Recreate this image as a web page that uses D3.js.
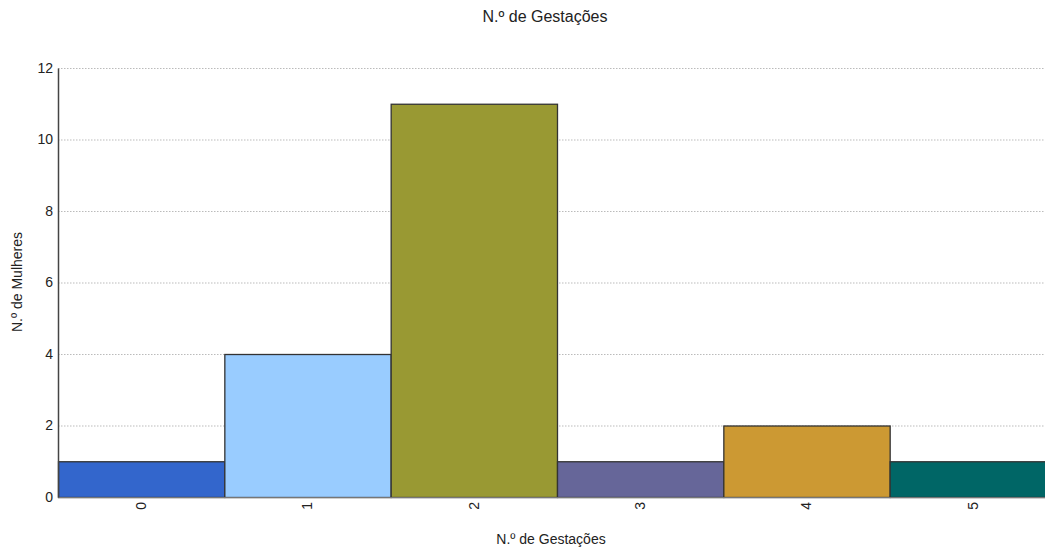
<!DOCTYPE html>
<html><head><meta charset="utf-8">
<script src="https://cdn.jsdelivr.net/npm/d3@7"></script>
<style>body{margin:0;background:#fff;} svg{display:block;} text{font-family:"Liberation Sans",Arial,sans-serif;fill:#222;}</style>
</head><body>
<script>
const categories = ["0","1","2","3","4","5"];
const values = [1,4,11,1,2,1];
const colors = ["#3366cc","#99ccff","#999933","#666699","#cc9933","#006666"];
const yTicks = [0,2,4,6,8,10,12];
const title = "N.º de Gestações";
const xTitle = "N.º de Gestações";
const yTitle = "N.º de Mulheres";

const W = 1045, H = 549;
const m = {left:58, right:-11, top:68, bottom:52};
const svg = d3.select("body").append("svg").attr("width",W).attr("height",H);
const x = d3.scaleBand().domain(categories).range([m.left, W - m.right]).padding(0);
const y = d3.scaleLinear().domain([0,12]).range([H - m.bottom, m.top]);

svg.append("text").attr("x",545).attr("y",22).attr("text-anchor","middle").attr("font-size",16).text(title);

const grid = svg.append("g");
grid.selectAll("line").data(yTicks.filter(d=>d>0)).join("line")
  .attr("x1",m.left).attr("x2",W).attr("y1",d=>y(d)+0.5).attr("y2",d=>y(d)+0.5)
  .attr("stroke","#bbb").attr("stroke-dasharray","1.5,1.5");

svg.append("g").selectAll("rect").data(values).join("rect")
  .attr("x",(d,i)=>x(categories[i])+0.5).attr("width",x.bandwidth())
  .attr("y",d=>y(d)+0.5).attr("height",d=>y(0)-y(d))
  .attr("fill",(d,i)=>colors[i]).attr("stroke","#333").attr("stroke-width",1.3);

// x baseline
svg.append("line").attr("x1",m.left).attr("x2",W).attr("y1",y(0)+1).attr("y2",y(0)+1).attr("stroke","#bbb");

// y axis
const ya = d3.axisLeft(y).tickValues(yTicks).tickSize(0).tickPadding(5);
const yg = svg.append("g").attr("transform",`translate(${m.left},0)`).call(ya);
yg.select(".domain").attr("stroke","#444").attr("stroke-width",1.5);
yg.selectAll("text").attr("font-size",14).style("font-family","Liberation Sans, Arial, sans-serif").attr("fill","#222");

// x axis
const xa = d3.axisBottom(x).tickSize(0).tickPadding(0);
const xg = svg.append("g").attr("transform",`translate(0,${y(0)})`).call(xa);
xg.select(".domain").remove();
xg.selectAll("text").attr("font-size",14).style("font-family","Liberation Sans, Arial, sans-serif").attr("fill","#222")
  .attr("transform","rotate(-90)").attr("text-anchor","end").attr("dy","0.35em").attr("x",-5).attr("y",0);

svg.append("text").attr("x",551).attr("y",544).attr("text-anchor","middle").attr("font-size",14).text(xTitle);
svg.append("text").attr("transform","translate(22,282) rotate(-90)").attr("text-anchor","middle").attr("font-size",14).text(yTitle);
</script>
</body></html>
